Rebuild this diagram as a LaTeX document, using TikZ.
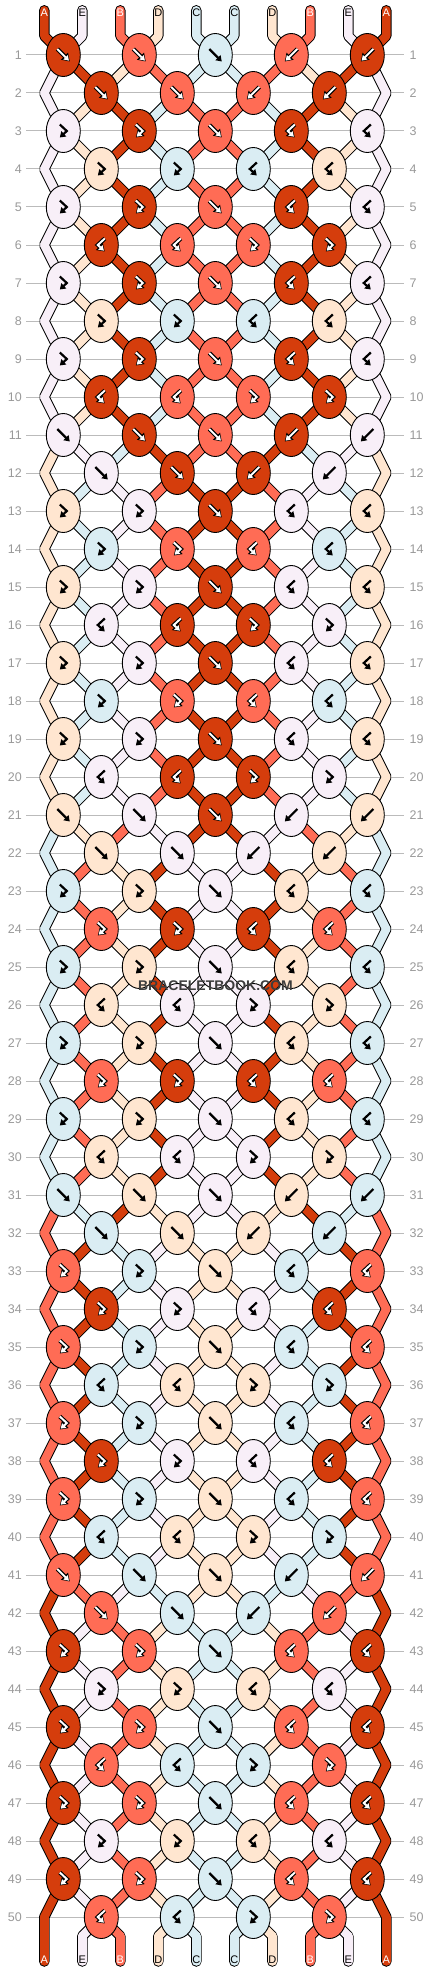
\documentclass[tikz,border=0pt]{standalone}
\usepackage{fontspec}
\setmainfont{Liberation Sans}
\usetikzlibrary{shapes.geometric,arrows.meta}
\definecolor{cA}{HTML}{D53D0C}
\definecolor{cB}{HTML}{FF6C55}
\definecolor{cC}{HTML}{DAEDF3}
\definecolor{cD}{HTML}{FFE6D0}
\definecolor{cE}{HTML}{F8EFF8}
\definecolor{numgray}{HTML}{999999}
\definecolor{linegray}{HTML}{BBBBBB}
\definecolor{markgray}{HTML}{3D3D3D}
\pgfdeclarelayer{grid}
\pgfdeclarelayer{strb}
\pgfdeclarelayer{strf}
\pgfsetlayers{grid,strb,strf,main}
% knot types per row, f/b plain, F = forward-backward, B = backward-forward
\expandafter\def\csname ty0\endcsname{f,f,f,b,b}
\expandafter\def\csname ty1\endcsname{f,f,b,b}
\expandafter\def\csname ty2\endcsname{F,F,f,B,B}
\expandafter\def\csname ty3\endcsname{F,F,B,B}
\expandafter\def\csname ty4\endcsname{F,F,f,B,B}
\expandafter\def\csname ty5\endcsname{B,B,F,F}
\expandafter\def\csname ty6\endcsname{F,F,f,B,B}
\expandafter\def\csname ty7\endcsname{F,F,B,B}
\expandafter\def\csname ty8\endcsname{F,F,f,B,B}
\expandafter\def\csname ty9\endcsname{B,B,F,F}
\newcommand\knotglyph[1]{%
\if\kt f\draw[#1](-6,-6)--(6.5,6.5);\fi
\if\kt b\draw[#1](6,-6)--(-6.5,6.5);\fi
\if\kt F\draw[#1](-3.5,-6.5)--(3.5,0)--(-3.5,6.5);\fi
\if\kt B\draw[#1](3.5,-6.5)--(-3.5,0)--(3.5,6.5);\fi}

\begin{document}
\begin{tikzpicture}[x=1pt,y=-1pt,
knot/.style={ellipse,draw=black,line width=0.9pt,minimum width=34pt,minimum height=43pt,inner sep=0pt},
strout/.style={line width=10.5pt,black,line cap=round,line join=bevel},
strin/.style={line width=8.5pt,line cap=round,line join=round},
glk/.style={black,line width=2.2pt,-{Triangle[length=5.5pt,width=7pt]}},
glo/.style={black,line width=4.2pt,-{Triangle[length=7.5pt,width=9.5pt]}},
glw/.style={white,line width=2pt,shorten >=1.2pt,-{Triangle[length=4.8pt,width=6pt]}},
rowno/.style={text=numgray,font=\fontsize{12.5}{13}\selectfont,inner sep=0pt},
lbl/.style={font=\fontsize{11}{11}\selectfont,inner sep=0pt},
gridln/.style={linegray,line width=1pt}]
\useasboundingbox (0,0) rectangle (430,1972);
\foreach \ps in {1,...,10}{
\pgfmathsetmacro\xp{44.3+38*(\ps-1)}
\coordinate(t-\ps)at(\xp,10.3);
\coordinate(s-0-\ps)at(\xp,36);
\coordinate(s-51-\ps)at(\xp,1936);
\coordinate(e-\ps)at(\xp,1961.5);
\foreach \rw in {1,...,50}{
\pgfmathsetmacro\xx{mod(\rw,2)==1 ? 63.3+76*(int((\ps+1)/2)-1) : (\ps==1 ? 44.3 : (\ps==10 ? 386.3 : 101.3+76*(int(\ps/2)-1)))}
\coordinate(s-\rw-\ps)at(\xx,{55+38*(\rw-1)});
}
}
\foreach \rw in {1,...,50}{
\pgfmathsetmacro\yy{55+38*(\rw-1)}
\node[rowno,anchor=east](ln-\rw)at(22,\yy){\rw};
\node[rowno,anchor=west](rn-\rw)at(409.5,\yy){\rw};
\begin{pgfonlayer}{grid}
\draw[gridln]([xshift=4pt]ln-\rw.east)--([xshift=-5.5pt]rn-\rw.west);
\end{pgfonlayer}
}
\begin{pgfonlayer}{strb}
\foreach \ps in {1,...,10}{
\draw[strout](t-\ps)--(s-0-\ps)\foreach \rw in {1,...,51}{--(s-\rw-\ps)}--(e-\ps);
}
\end{pgfonlayer}
\foreach \cl [count=\ps] in {A,E,B,D,C,C,D,B,E,A}{
\expandafter\xdef\csname st\ps\endcsname{\cl}
\pgfmathsetmacro\xp{44.3+38*(\ps-1)}
\def\tc{black}\if\cl A\def\tc{white}\fi\if\cl B\def\tc{white}\fi
\node[lbl,text=\tc](tl-\ps)at(\xp,12.8){\cl};
\edef\scol{c\cl}
\begin{pgfonlayer}{strf}
\draw[strin,draw=\scol](t-\ps)--(s-0-\ps)--(s-1-\ps);
\end{pgfonlayer}
}
\foreach \rw in {1,...,50}{
\pgfmathtruncatemacro\md{mod(\rw-1,10)}
\pgfmathtruncatemacro\od{mod(\rw,2)}
\pgfmathtruncatemacro\rn{\rw+1}
\edef\tys{\csname ty\md\endcsname}
\foreach \kt [count=\kn] in \tys {
\pgfmathtruncatemacro\pl{\od==1 ? 2*\kn-1 : 2*\kn}
\pgfmathtruncatemacro\pr{\pl+1}
\edef\lc{\csname st\pl\endcsname}
\edef\rc{\csname st\pr\endcsname}
\let\kc\rc\def\sw{0}
\if\kt f\let\kc\lc\def\sw{1}\fi
\if\kt F\let\kc\lc\fi
\if\kt b\def\sw{1}\fi
\if\sw1\expandafter\xdef\csname st\pl\endcsname{\rc}\expandafter\xdef\csname st\pr\endcsname{\lc}\fi
\edef\kcol{c\kc}
\node[knot,fill=\kcol](k-\rw-\kn)at(s-\rw-\pl){};
\begin{scope}[shift={(k-\rw-\kn)}]
\if\kc A\knotglyph{glo}\knotglyph{glw}\else\if\kc B\knotglyph{glo}\knotglyph{glw}\else\knotglyph{glk}\fi\fi
\end{scope}
}
\begin{pgfonlayer}{strf}
\foreach \ps in {1,...,10}{
\edef\scol{c\csname st\ps\endcsname}
\draw[strin,draw=\scol](s-\rw-\ps)--(s-\rn-\ps);
}
\end{pgfonlayer}
}
\foreach \ps in {1,...,10}{
\edef\cl{\csname st\ps\endcsname}
\pgfmathsetmacro\xp{44.3+38*(\ps-1)}
\def\tc{black}\if\cl A\def\tc{white}\fi\if\cl B\def\tc{white}\fi
\node[lbl,text=\tc](bl-\ps)at(\xp,1960){\cl};
\edef\scol{c\cl}
\begin{pgfonlayer}{strf}
\draw[strin,draw=\scol](s-51-\ps)--(e-\ps);
\end{pgfonlayer}
}
\node[text=markgray,font=\fontsize{14}{14}\selectfont\bfseries](wm)at(215.5,985.5){BRACELETBOOK.COM};
\end{tikzpicture}
\end{document}
